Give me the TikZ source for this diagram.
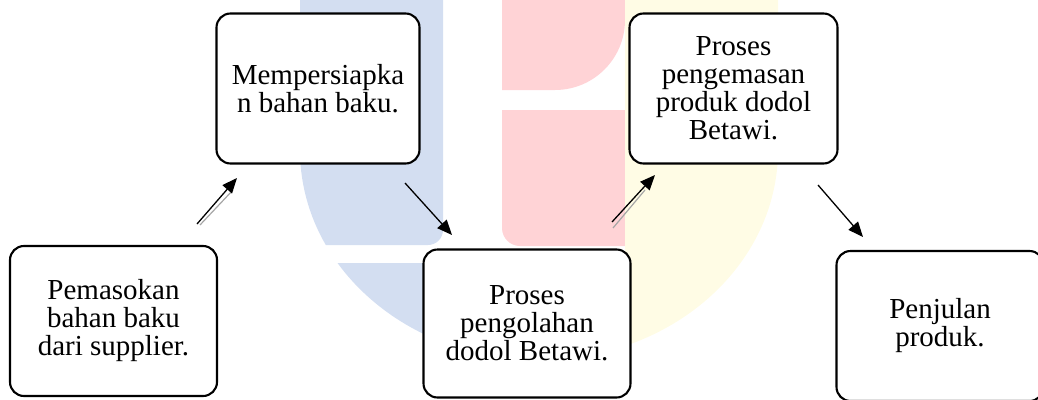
\documentclass[tikz,border=0pt]{standalone}
\usepackage{fontspec}
\setmainfont{Liberation Serif}
\usetikzlibrary{arrows.meta}

\definecolor{logoblue}{RGB}{211,222,241}
\definecolor{logored}{RGB}{255,211,214}
\definecolor{logoyellow}{RGB}{255,252,229}

\tikzset{
  stepbox/.style={draw=black, line width=2.1pt, rounded corners=14pt, fill=white,
    inner sep=0pt, align=center, font=\fontsize{29}{28}\selectfont},
  flow/.style={line width=1.3pt, -{Triangle[length=15pt,width=12.5pt]}},
  flowshade/.style={line width=1.2pt, draw=black!35},
}

\begin{document}
\begin{tikzpicture}[x=1pt,y=-1pt]
  \useasboundingbox (0,0) rectangle (1038,399);

  % faint emblem in the background
  \begin{scope}
    \clip (300,-10) -- (300,150)
      arc[start angle=180, end angle=0, x radius=239, y radius=210]
      -- (778,-10) -- cycle;
    % blue part with its notch
    \fill[logoblue] (300,-10) -- (443,-10) -- (443,230)
      arc[start angle=0, end angle=90, radius=15] -- (300,245) -- cycle;
    \fill[logoblue] (300,263) rectangle (443,420);
    % red part, upper and lower blocks
    \fill[logored] (502,-10) -- (625,-10) -- (625,20)
      arc[start angle=0, end angle=90, radius=70] -- (502,90) -- cycle;
    \fill[logored] (502,110) -- (625,110) -- (625,246) -- (520,246)
      arc[start angle=90, end angle=180, radius=18] -- cycle;
    % yellow part
    \fill[logoyellow] (625,-10) rectangle (800,420);
  \end{scope}

  % process steps
  \node[stepbox, minimum width=207pt, minimum height=150pt] (b1) at (113.5,321)
    {Pemasokan\\bahan baku\\dari supplier.};
  \node[stepbox, minimum width=203pt, minimum height=150pt] (b2) at (318,88.5)
    {Mempersiapka\\n bahan baku.};
  \node[stepbox, minimum width=207pt, minimum height=148pt] (b3) at (527,323.5)
    {Proses\\pengolahan\\dodol Betawi.};
  \node[stepbox, minimum width=208pt, minimum height=150pt] (b4) at (733.5,88.5)
    {Proses\\pengemasan\\produk dodol\\Betawi.};
  \node[stepbox, minimum width=207pt, minimum height=150pt] (b5) at (940,326)
    {Penjulan\\produk.};

  % arrow end points between the steps
  \coordinate (a1s) at (197,224);  \coordinate (a1e) at (237,178);
  \coordinate (a2s) at (405,183);  \coordinate (a2e) at (452,235);
  \coordinate (a3s) at (612,222);  \coordinate (a3e) at (655,175);
  \coordinate (a4s) at (818,185);  \coordinate (a4e) at (863,237);
  \coordinate (a1ss) at (200,225); \coordinate (a1se) at (233,190);
  \coordinate (a3ss) at (613,228); \coordinate (a3se) at (645,190);

  % light companion strokes beside two arrows
  \draw[flowshade] (a1ss) -- (a1se);
  \draw[flowshade] (a3ss) -- (a3se);

  % arrows
  \draw[flow] (a1s) -- (a1e);
  \draw[flow] (a2s) -- (a2e);
  \draw[flow] (a3s) -- (a3e);
  \draw[flow] (a4s) -- (a4e);
\end{tikzpicture}
\end{document}
